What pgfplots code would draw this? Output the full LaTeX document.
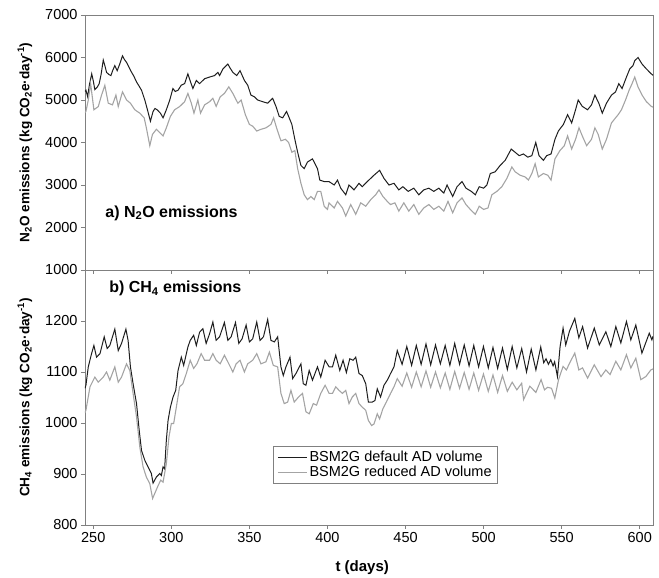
\documentclass[border=0pt]{standalone}
\usepackage{fontspec}
\setmainfont{Liberation Sans}
\usepackage{pgfplots}
\usepackage{pgfplotstable}
\pgfplotsset{compat=1.18}
\definecolor{darkline}{HTML}{1E1E1E}
\definecolor{lightline}{HTML}{A4A4A4}
\definecolor{framegray}{HTML}{808080}

\pgfplotstableread{
t v
244.7 5200
245.3 5230
246.4 5080
247.5 5350
249.0 5615
250.0 5450
251.0 5245
252.5 5300
253.8 5385
255.0 5600
256.4 5940
257.5 5800
258.5 5650
260.0 5600
261.3 5575
262.5 5700
263.8 5810
265.3 5690
267.0 5850
268.7 6040
270.0 5950
271.3 5885
273.0 5760
274.5 5655
276.0 5560
277.7 5425
279.3 5330
280.9 5230
283.0 5000
284.7 4770
286.6 4500
288.3 4730
289.5 4800
290.9 4770
293.0 4690
294.7 4580
296.8 4770
299.0 5000
301.0 5270
302.5 5200
304.3 5230
306.4 5350
308.5 5385
310.6 5615
312.3 5425
313.8 5270
316.0 5460
318.1 5385
321.3 5500
324.5 5540
327.7 5575
329.8 5650
330.9 5575
333.0 5730
336.2 5845
337.5 5760
339.4 5650
341.9 5575
344.0 5690
346.8 5460
348.9 5350
351.0 5115
353.2 5075
355.3 5000
358.5 4960
361.7 4925
364.9 5040
367.0 4850
369.1 4615
371.3 4580
373.8 4730
375.5 4580
377.2 4425
379.1 4075
380.9 3770
383.0 3460
385.1 3385
387.2 3540
390.4 3615
393.6 3385
395.1 3115
397.9 3080
401.0 3080
404.3 3000
406.4 3115
408.5 2925
411.7 2770
413.8 3000
417.0 2885
420.2 3040
422.3 2960
425.5 3080
429.8 3230
433.4 3345
436.2 3155
439.4 3000
442.6 3040
445.7 2885
448.3 2960
451.7 2850
455.3 2925
458.5 2770
461.7 2885
464.9 2925
468.1 2850
471.3 2925
474.5 2810
476.6 3000
480.2 2730
483.0 2960
486.2 3080
488.7 2925
492.1 2850
494.7 2770
497.2 2960
500.0 2925
502.1 3000
504.3 3270
507.4 3310
510.6 3460
513.8 3580
517.7 3845
520.2 3770
522.8 3690
525.5 3730
528.3 3655
530.9 3690
533.4 4000
535.5 3690
538.3 3580
540.4 3690
543.2 3730
545.7 4075
547.9 4270
551.1 4425
553.8 4655
556.4 4460
558.9 4770
560.6 5000
563.2 4850
566.6 4770
569.1 4885
571.3 5115
573.8 4925
576.0 4690
578.7 4925
581.9 5115
584.5 5190
586.6 5385
588.7 5270
591.5 5540
593.6 5730
595.7 5810
596.8 5925
598.9 6000
601.5 5845
604.3 5730
607.4 5615
608.5 5580
}\topdark

\pgfplotstableread{
t v
244.7 4700
245.3 4730
246.8 5000
248.3 5385
250.4 4770
253.2 4845
255.3 5115
257.4 5345
259.6 4925
262.3 4885
264.5 5115
266.0 4845
268.7 5190
271.3 5000
273.8 4925
276.6 4770
279.8 4690
282.6 4580
284.0 4345
286.2 3925
287.9 4190
290.4 4310
292.6 4230
294.7 4155
296.8 4345
299.4 4615
302.1 4770
305.3 4845
308.5 4960
310.6 5155
312.8 4925
314.5 4690
317.0 5000
318.7 4690
321.3 4885
324.5 4960
326.6 5040
328.7 4850
331.3 5075
334.0 5155
336.8 5310
339.4 5155
342.6 4925
344.7 5000
347.4 4655
350.0 4425
352.1 4385
354.7 4270
357.4 4310
360.6 4345
363.8 4425
365.5 4580
367.7 4310
370.2 4040
373.0 4075
375.1 4000
377.2 3770
379.1 3810
380.9 3385
383.0 3040
385.1 2770
387.2 2655
389.4 2730
391.5 2655
393.6 2850
395.7 2850
397.9 2500
400.0 2425
401.0 2580
404.3 2460
406.4 2615
409.6 2460
411.7 2270
414.9 2540
418.1 2310
421.3 2580
424.5 2500
427.7 2655
430.9 2770
433.0 2885
435.5 2730
438.3 2615
440.4 2540
443.2 2580
445.7 2385
448.9 2580
452.1 2385
455.3 2540
458.5 2310
461.7 2460
464.9 2540
468.1 2425
471.3 2500
474.5 2385
477.2 2615
480.2 2345
483.0 2580
486.2 2695
488.7 2540
491.5 2425
494.7 2310
497.2 2500
500.0 2425
502.8 2460
505.3 2770
508.5 2850
511.7 2960
514.9 3155
518.1 3425
520.2 3310
523.4 3230
526.6 3190
528.7 3115
530.9 3270
533.0 3500
535.1 3190
538.3 3270
541.1 3230
543.2 3115
545.7 3615
548.9 3810
551.7 3925
553.8 4155
556.4 3845
558.9 4075
561.1 4345
563.2 4155
566.0 3925
569.1 4075
571.3 4345
573.4 4190
576.0 3845
578.7 4075
581.9 4460
584.5 4580
586.2 4655
588.3 4770
590.9 5000
593.2 5230
595.1 5385
596.8 5540
598.9 5310
601.5 5115
604.3 4960
607.4 4850
608.5 4830
}\toplight

\pgfplotstableread{
t v
244.7 1068
245.3 1074
246.8 1110
248.9 1136
250.4 1152
252.1 1129
254.3 1136
257.0 1169
258.9 1146
260.6 1152
263.8 1184
266.0 1142
268.1 1156
270.9 1184
272.3 1162
273.8 1110
275.5 1077
277.7 1038
279.4 986
280.9 946
283.0 927
285.1 914
287.2 901
288.3 882
290.4 894
292.6 901
293.6 897
294.7 914
295.7 910
296.8 966
297.9 1005
299.4 1031
301.1 1051
302.8 1064
304.3 1103
306.4 1129
307.9 1113
310.6 1149
312.1 1162
314.3 1172
316.0 1152
318.1 1178
320.2 1185
322.3 1156
324.5 1175
326.6 1198
328.7 1162
330.9 1169
334.0 1197
336.2 1162
338.3 1169
341.1 1197
343.2 1156
345.3 1165
347.9 1192
350.0 1159
352.1 1165
354.7 1198
356.8 1162
359.0 1169
361.7 1203
363.8 1162
366.0 1159
368.1 1169
370.2 1110
371.7 1093
373.4 1110
376.0 1129
377.7 1087
379.8 1097
383.0 1116
384.5 1077
386.2 1074
388.3 1103
390.4 1084
393.6 1110
395.7 1090
398.5 1123
401.1 1110
403.2 1110
405.3 1133
407.9 1103
410.0 1123
412.1 1099
414.3 1126
416.4 1123
418.1 1129
420.2 1097
422.3 1093
424.5 1077
426.2 1041
428.7 1041
430.4 1044
431.9 1067
434.0 1051
436.2 1074
438.3 1084
440.4 1097
442.6 1110
444.7 1142
447.8 1115
450.8 1150
453.9 1113
456.9 1152
460.0 1115
463.1 1155
466.1 1114
469.2 1153
472.3 1116
475.4 1152
478.4 1113
481.5 1156
484.6 1115
487.6 1153
490.7 1112
493.7 1152
496.8 1110
499.9 1150
503.0 1108
506.0 1148
509.0 1107
512.1 1147
515.2 1105
518.3 1150
521.3 1108
524.4 1146
527.5 1100
530.5 1145
533.5 1104
536.6 1149
538.5 1118
540.0 1126
541.5 1115
543.0 1124
544.5 1112
545.5 1120
547.3 1091
549.0 1150
550.9 1186
552.6 1153
555.0 1180
558.4 1205
561.0 1167
563.4 1189
566.6 1147
570.9 1186
574.1 1153
578.3 1179
581.5 1150
584.7 1189
587.9 1157
591.5 1199
594.3 1163
597.5 1192
601.4 1137
606.1 1176
607.8 1163
608.5 1170
}\lowdark

\pgfplotstableread{
t v
244.7 1020
245.3 1025
247.9 1071
251.0 1090
253.2 1080
256.4 1090
258.5 1100
260.6 1084
263.8 1110
266.0 1080
268.1 1090
271.3 1116
273.4 1103
275.5 1058
277.7 1012
279.8 953
281.9 914
284.0 894
286.2 881
288.0 852
289.4 862
291.5 877
293.2 888
294.7 884
296.8 920
298.5 973
300.0 999
301.5 999
303.2 1031
305.3 1071
307.4 1077
309.6 1097
312.1 1123
314.3 1107
316.4 1116
319.1 1136
321.3 1123
324.5 1123
326.6 1136
328.7 1123
331.3 1116
334.0 1133
336.8 1116
339.4 1100
341.5 1116
344.0 1123
346.8 1100
348.9 1116
352.1 1123
354.7 1136
357.4 1116
360.6 1120
362.8 1139
365.3 1113
368.1 1110
370.2 1058
372.3 1038
374.5 1041
376.6 1064
378.7 1041
381.5 1051
384.0 1058
386.2 1022
388.3 1018
390.9 1038
393.0 1035
395.7 1058
398.5 1074
401.1 1058
403.2 1058
405.3 1071
407.4 1064
409.6 1058
411.7 1064
413.8 1038
415.9 1051
418.1 1058
420.2 1038
422.3 1031
424.5 1025
426.2 1005
428.3 995
429.8 998
431.9 1018
433.4 1008
435.5 1028
437.7 1041
440.4 1058
442.6 1071
444.7 1087
447.8 1072
450.8 1098
453.9 1070
456.9 1100
460.0 1071
463.1 1102
466.1 1070
469.2 1100
472.3 1069
475.4 1098
478.4 1066
481.5 1101
484.6 1068
487.6 1099
490.7 1066
493.7 1098
496.8 1064
499.9 1096
503.0 1062
506.0 1094
509.0 1060
512.1 1093
515.2 1062
518.3 1080
521.3 1065
524.4 1078
525.6 1046
529.6 1072
533.5 1060
536.8 1085
539.0 1065
541.0 1070
543.5 1068
545.6 1049
548.0 1085
550.9 1111
553.0 1104
555.5 1120
558.4 1137
561.0 1104
563.4 1108
566.6 1088
570.9 1114
575.2 1091
578.3 1104
581.0 1095
584.7 1121
587.9 1104
591.5 1134
594.3 1108
597.5 1127
600.7 1085
603.9 1091
607.1 1104
608.5 1106
}\lowlight

\pgfplotsset{
  base/.style={
    scale only axis, width=568pt, height=255pt,
    xmin=244.7, xmax=608.5,
    xtick={250,300,...,600},
    tick align=outside, xtick pos=lower, ytick pos=left,
    major tick length=4pt,
    axis line style={framegray, line width=0.9pt},
    every tick/.style={framegray, line width=0.8pt},
    tick label style={font=\fontsize{14.5}{17}\selectfont, black},
    /pgf/number format/assume math mode=true,
    /pgf/number format/1000 sep={},
    ylabel style={font=\bfseries\fontsize{13.6}{16}\selectfont, at={(axis description cs:-0.1056,0.5)}, anchor=center},
  },
  darkp/.style={darkline, line width=1pt},
  lightp/.style={lightline, line width=1.1pt},
}

\begin{document}
\begin{tikzpicture}
\begin{axis}[base, name=up,
  ymin=1000, ymax=7000, ytick={1000,2000,...,7000},
  xticklabels={},
  ylabel={N\textsubscript{2}O emissions (kg CO\textsubscript{2}e\textperiodcentered day\textsuperscript{-1})},
]
\addplot[darkp] table[x=t,y=v]{\topdark};
\addplot[lightp] table[x=t,y=v]{\toplight};
\node[anchor=west, font=\bfseries\fontsize{16}{19}\selectfont] at (axis cs:255.5,2340) {a) N\textsubscript{2}O emissions};
\end{axis}
\begin{axis}[base, name=lo, at={(up.south west)}, anchor=north west,
  ymin=800, ymax=1300, ytick={800,900,...,1200},
  ylabel={CH\textsubscript{4} emissions (kg CO\textsubscript{2}e\textperiodcentered day\textsuperscript{-1})},
  xlabel={t (days)},
  xlabel style={font=\bfseries\fontsize{15}{18}\selectfont, at={(axis description cs:0.488,-0.169)}, anchor=center},
  legend style={at={(0.331,0.31)}, anchor=north west, draw=framegray, line width=0.8pt, font=\fontsize{14.5}{17}\selectfont, inner xsep=4pt, inner ysep=3pt, row sep=-1pt, cells={anchor=west}},
  legend image code/.code={\draw[#1] (0pt,0pt) -- (29pt,0pt);},
]
\addplot[darkp] table[x=t,y=v]{\lowdark};
\addlegendentry{BSM2G default AD volume}
\addplot[lightp] table[x=t,y=v]{\lowlight};
\addlegendentry{BSM2G reduced AD volume}
\node[anchor=west, font=\bfseries\fontsize{16}{19}\selectfont] at (axis cs:258.0,1263) {b) CH\textsubscript{4} emissions};
\end{axis}
\pgfresetboundingbox
\path ([xshift=-85pt,yshift=-53pt]lo.south west) rectangle ([xshift=6pt,yshift=15pt]up.north east);
\end{tikzpicture}
\end{document}
